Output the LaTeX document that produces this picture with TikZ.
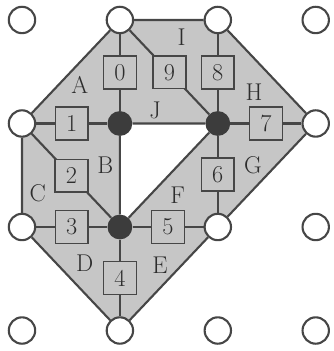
\documentclass[tikz,border=0pt]{standalone}
\usepackage{tikz}
\definecolor{facegray}{RGB}{198,198,198}
\definecolor{edgegray}{RGB}{70,70,70}
\definecolor{hubgray}{RGB}{60,60,60}
\definecolor{inkgray}{RGB}{45,45,45}
\begin{document}
\begin{tikzpicture}[
x=2.45cm, y=2.59cm,
gridpt/.style={circle, draw=edgegray, fill=white, line width=1.5pt, minimum size=6.6mm, inner sep=0pt},
hub/.style={circle, fill=hubgray, minimum size=6.2mm, inner sep=0pt},
numbox/.style={draw=edgegray, fill=facegray, line width=1.1pt, minimum width=8.2mm, minimum height=8.2mm, inner sep=0pt, font=\LARGE, text=inkgray},
lab/.style={font=\LARGE, text=inkgray, inner sep=0pt},
edge/.style={draw=edgegray, line width=1.5pt}
]
\useasboundingbox (-0.2245,0.193) rectangle (3.184,-3.198);
% faces
\fill[facegray] (1,0) -- (2,0) -- (3,-1) -- (2,-2) -- (1,-3) -- (0,-2) -- (0,-1) -- cycle;
\fill[white] (1,-1) -- (2,-1) -- (1,-2) -- cycle;
% grid points and hubs
\foreach \i/\j in {0/0,1/0,2/0,3/0,0/1,3/1,0/2,2/2,3/2,0/3,1/3,2/3,3/3}
  \node[gridpt] (v\i\j) at (\i,-\j) {};
\node[hub] (h1) at (1,-1) {};
\node[hub] (h2) at (2,-1) {};
\node[hub] (h3) at (1,-2) {};
% outer and inner edges
\draw[edge] (v10) -- (v20) -- (v31) -- (v22) -- (v13) -- (v02) -- (v01) -- (v10);
\draw[edge] (h1) -- (h2) -- (h3) -- (h1);
% numbered spokes
\draw[edge] (v10) -- node[numbox] {0} (h1);
\draw[edge] (v01) -- node[numbox] {1} (h1);
\draw[edge] (v01) -- node[numbox] {2} (h3);
\draw[edge] (v02) -- node[numbox] {3} (h3);
\draw[edge] (h3) -- node[numbox] {4} (v13);
\draw[edge] (h3) -- node[numbox] {5} (v22);
\draw[edge] (h2) -- node[numbox] {6} (v22);
\draw[edge] (h2) -- node[numbox] {7} (v31);
\draw[edge] (v20) -- node[numbox] {8} (h2);
\draw[edge] (v10) -- node[numbox] {9} (h2);
% letters
\node[lab] (lA) at (0.59,-0.63) {A};
\node[lab] (lB) at (0.85,-1.40) {B};
\node[lab] (lC) at (0.16,-1.67) {C};
\node[lab] (lD) at (0.64,-2.35) {D};
\node[lab] (lE) at (1.41,-2.37) {E};
\node[lab] (lF) at (1.59,-1.69) {F};
\node[lab] (lG) at (2.36,-1.40) {G};
\node[lab] (lH) at (2.37,-0.70) {H};
\node[lab] (lI) at (1.63,-0.17) {I};
\node[lab] (lJ) at (1.36,-0.87) {J};
\end{tikzpicture}
\end{document}
